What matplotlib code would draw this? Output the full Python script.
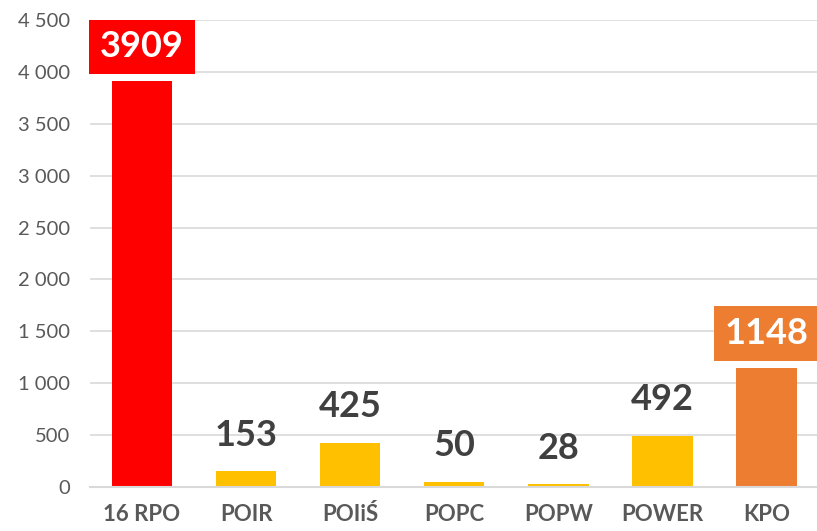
import matplotlib.pyplot as plt
from matplotlib.ticker import FuncFormatter

categories = ['16 RPO', 'POIR', 'POIiŚ', 'POPC', 'POPW', 'POWER', 'KPO']
values = [3909, 153, 425, 50, 28, 492, 1148]
colors = ['#FF0000', '#FFC000', '#FFC000', '#FFC000', '#FFC000', '#FFC000', '#ED7D31']
boxed = [True, False, False, False, False, False, True]

plt.rcParams['font.family'] = ['Lato', 'DejaVu Sans']

fig = plt.figure(figsize=(8.17, 5.31), dpi=100)
ax = fig.add_axes([0.110, 0.083, 0.892, 0.879])

x = list(range(len(categories)))
ax.bar(x, values, width=0.58, color=colors, zorder=2)

ax.set_xlim(-0.5, len(categories) - 0.5)
ax.set_ylim(0, 4500)
ax.set_yticks(range(0, 4501, 500))
ax.yaxis.set_major_formatter(FuncFormatter(lambda v, p: f'{int(v):,}'.replace(',', ' ')))
ax.grid(axis='y', color='#D9D9D9', linewidth=1.2, zorder=0)
ax.set_axisbelow(True)

for s in ['top', 'right', 'left']:
    ax.spines[s].set_visible(False)
ax.spines['bottom'].set_color('#D9D9D9')
ax.spines['bottom'].set_linewidth(1.5)

ax.set_xticks(x)
ax.set_xticklabels(categories, fontsize=16, fontweight='bold', color='#595959')
ax.tick_params(axis='both', length=0)
ax.tick_params(axis='x', pad=12)
ax.tick_params(axis='y', labelsize=14.5, labelcolor='#595959', pad=14)

for xi, v, c, b in zip(x, values, colors, boxed):
    if b:
        ax.annotate(str(v), (xi, v), xytext=(0, 13), textcoords='offset points',
                    ha='center', va='bottom', fontsize=26, fontweight='bold', color='white',
                    bbox=dict(boxstyle='square,pad=0.3', facecolor=c, edgecolor='none'),
                    annotation_clip=False, zorder=5)
    else:
        ax.annotate(str(v), (xi, v), xytext=(0, 14), textcoords='offset points',
                    ha='center', va='bottom', fontsize=26, fontweight='bold', color='#404040',
                    annotation_clip=False, zorder=5)

fig.savefig('out.png', dpi=100)
